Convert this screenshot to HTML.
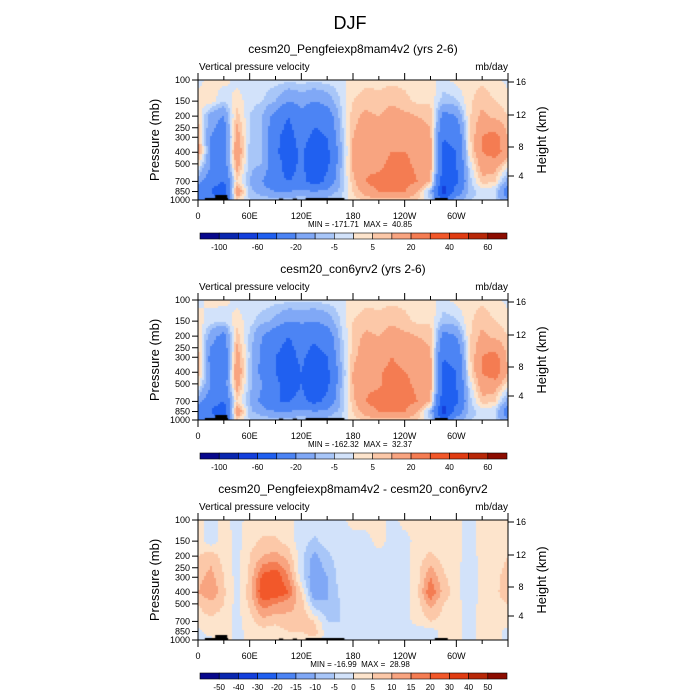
<!DOCTYPE html>
<html><head><meta charset="utf-8">
<style>
html,body{margin:0;padding:0;background:#fff;}
#wrap{position:relative;width:700px;height:700px;overflow:hidden;font-family:"Liberation Sans",Arial,sans-serif;}
canvas{position:absolute;left:0;top:0;}
svg{position:absolute;left:0;top:0;}
text{white-space:pre;}
</style></head>
<body>
<div id="wrap">
<canvas id="cv" width="700" height="700"></canvas>
<svg id="sv" width="700" height="700"></svg>
</div>
<script>
// ---- data ----
const lons = [0,15,30,45,60,75,90,105,120,135,150,165,180,195,210,225,240,255,270,285,300,315,330,345];
const pressures = [100,150,200,300,400,500,700,850,1000];
const field1 = [
 [-2, 2, 2,-2,-2,-2,-3,-3,-3,-3,-3,-2, 3, 4, 4, 4, 4, 3, 2,-2, 2, 3, 4, 2],
 [ 3, 3,-5, 3,-3,-5,-10,-20,-15,-20,-15,-5, 5, 7, 6, 8, 6, 4, 4,-8,-6, 4, 8, 5],
 [ 5,-15,-20, 8,-5,-10,-25,-40,-25,-35,-30,-8, 8,12,10,15,12,10, 8,-25,-20, 4,12, 8],
 [10,-20,-30,15,-5,-10,-35,-50,-30,-45,-40,-10,10,15,12,20,15,15,12,-40,-35, 3,20,25],
 [15,-20,-30,20,-8,-10,-35,-55,-35,-60,-45,-15,12,20,15,20,20,18,14,-45,-40, 2,20,25],
 [ 3,-20,-30,15,-8,-10,-30,-50,-35,-55,-45,-12,12,18,15,25,22,18,14,-45,-40,-3,15,15],
 [-15,-30,-40, 5,-10,-20,-35,-40,-35,-50,-35,-10, 8,20,25,30,25,20,10,-55,-45,-8, 8, 5],
 [-30,-40,-60,20,-8,-15,-20,-20,-15,-20,-15,-8, 5,15,20,20,20,10,-10,-70,-30,-8,-3,-5],
 [-20,-30,-40, 5,-5,-5,-8,-8,-5,-8,-8,-5, 3, 5, 8, 8, 8, 5,-5,-40,-15,-5,-3,-5]
];
const field2 = [
 [-2, 2, 2,-2,-2,-2,-3,-3,-3,-3,-3,-2, 3, 4, 4, 4, 4, 3, 2,-2, 2, 3, 4, 2],
 [ 3,-3,-5, 3,-3,-8,-12,-20,-18,-20,-15,-5, 5, 7, 6, 8, 6, 4, 4,-8,-6, 4, 8, 5],
 [ 5,-15,-25, 8,-6,-20,-30,-40,-30,-35,-30,-8, 6,12,10,15,12,10, 8,-25,-20, 4,12, 8],
 [ 8,-25,-35,15,-6,-25,-40,-50,-35,-50,-40,-10, 8,15,12,20,15,15,12,-40,-35, 3,20,25],
 [10,-25,-35,20,-8,-25,-40,-55,-40,-60,-45,-15,10,20,18,25,20,18,14,-45,-40, 2,20,28],
 [ 3,-20,-30,15,-8,-20,-35,-50,-40,-55,-45,-12,10,18,18,25,22,18,14,-45,-40,-3,15,15],
 [-15,-30,-40, 5,-10,-25,-40,-40,-35,-45,-35,-10, 8,20,25,30,25,20,10,-55,-45,-8, 8, 5],
 [-30,-40,-60,20,-8,-15,-20,-20,-15,-20,-15,-8, 5,15,20,20,20,10,-10,-70,-30,-8,-3,-5],
 [-20,-30,-40, 5,-5,-5,-8,-8,-5,-8,-8,-5, 3, 5, 8, 8, 8, 5,-5,-40,-15,-5,-3,-5]
];
const field3 = [
 [2,-2,2,-2,2,2,2,2,-2,-2,-2,-2,2,2,2,-2,2,2,2,2,2,-2,2,2],
 [2,-3,3,-2,3,6,6,3,-3,-6,-3,-2,-2,-2,2,-2,-2,2,3,2,2,-2,2,2],
 [5,8,3,-2,5,10,12,8,-3,-12,-6,-3,-2,-2,-2,-2,-2,3,6,3,2,-3,2,2],
 [8,12,5,-2,6,22,25,15,-3,-15,-10,-3,-2,-2,-3,-2,-2,3,15,6,2,-5,2,3],
 [10,15,6,-2,8,25,25,20,5,-15,-10,-4,-2,-2,-3,-2,-2,4,20,8,2,-5,2,3],
 [5,8,5,-2,6,18,15,12,8,-8,-10,-5,-2,-2,-3,-2,-2,3,12,5,2,-3,2,2],
 [3,4,3,-2,3,8,6,8,10,5,-5,-5,-3,-2,-3,-2,-2,2,5,3,2,-2,2,2],
 [-2,3,3,-2,2,3,3,5,5,8,-3,-4,-2,-2,-2,-2,-2,-3,-3,2,2,-2,2,2],
 [-2,-2,3,-2,2,2,2,3,3,3,-2,-3,-2,-2,-2,-2,-2,-3,-2,2,2,-2,2,2]
];
const levels12 = [-100,-80,-60,-40,-20,-10,-5,0,5,10,20,30,40,50,60];
const levels3 = [-50,-40,-30,-20,-15,-10,-5,0,5,10,15,20,30,40,50];
const titles = ["cesm20_Pengfeiexp8mam4v2 (yrs 2-6)","cesm20_con6yrv2 (yrs 2-6)","cesm20_Pengfeiexp8mam4v2 - cesm20_con6yrv2"];
const minmax = ["MIN = -171.71  MAX =  40.85","MIN = -162.32  MAX =  32.37","MIN = -16.99  MAX =  28.98"];
const pTicks = [100,150,200,250,300,400,500,700,850,1000];
const hTicks = [4,8,12,16];
const hTickY = [176,147,115,82];
const lonTicks = [0,60,120,180,240,300];
const lonLabels = ["0","60E","120E","180","120W","60W"];
const topoLon = [[8,35,2],[20,34,5],[94,99,1.5],[110,115,1.5],[125,170,2],[275,290,2]];

const colors = ["#08088c","#0a28b0","#1440dc","#2060f0","#4c84f4","#80a8f6","#a8c6f8","#d2e2fa","#fde4cc","#fcc8a8","#f8a480","#f47c52","#f2582a","#e03c12","#b82808","#8c0c00"];

// ---- geometry ----
const X0=198, X1=508, PH=120;
const tops=[80,300,520];
const xOf = lon => X0 + (X1-X0)*lon/360;
const yOf = (p,top) => top + PH*Math.log10(p/100);

function colorFor(v, lv){ let i=0; while(i<lv.length && v>=lv[i]) i++; return colors[i]; }
function sample(field, lon, p){
  const n=lons.length;
  let c=lon/15; let i0=Math.floor(c)%n; let i1=(i0+1)%n; let fx=c-Math.floor(c);
  const lp=Math.log10(p); let j=0;
  while(j<pressures.length-2 && lp>Math.log10(pressures[j+1])) j++;
  const a=Math.log10(pressures[j]), b=Math.log10(pressures[j+1]);
  let fy=Math.min(1,Math.max(0,(lp-a)/(b-a)));
  const v00=field[j][i0],v01=field[j][i1],v10=field[j+1][i0],v11=field[j+1][i1];
  return (v00*(1-fx)+v01*fx)*(1-fy)+(v10*(1-fx)+v11*fx)*fy;
}
const ctx=document.getElementById('cv').getContext('2d');
const fields=[field1,field2,field3];
const lvs=[levels12,levels12,levels3];
for(let k=0;k<3;k++){
  const top=tops[k];
  for(let y=top;y<top+PH;y+=2){
    const p=100*Math.pow(10,(y+1-top)/PH);
    for(let x=X0;x<X1;x+=2){
      const lon=(x+1-X0)/(X1-X0)*360;
      ctx.fillStyle=colorFor(sample(fields[k],lon,p),lvs[k]);
      ctx.fillRect(x,y,2,2);
    }
  }
  ctx.fillStyle="#000";
  topoLon.forEach(t=>{ const h=t[2]; ctx.fillRect(xOf(t[0]),top+PH-h,xOf(t[1])-xOf(t[0]),h); });
}

// ---- svg overlay ----
const NS="http://www.w3.org/2000/svg";
const sv=document.getElementById('sv');
function mk(tag,attrs,parent){const e=document.createElementNS(NS,tag);for(const a in attrs)e.setAttribute(a,attrs[a]);(parent||sv).appendChild(e);return e;}
function txt(s,x,y,size,anchor,parent,extra){const e=mk('text',Object.assign({x:x,y:y,'font-size':size,'text-anchor':anchor||'middle',fill:'#000'},extra||{}),parent);e.textContent=s;return e;}

const t0=txt("DJF",350,29,18);



for(let k=0;k<3;k++){
  const top=tops[k];
  const g=mk('g',{});
  
  
  const st=txt(titles[k],353,top-27,12,'middle',g);
  
  
  const lt=txt("Vertical pressure velocity",199,top-10,10,'start',g);
  
  
  const ut=txt("mb/day",508,top-10,10,'end',g);
  
  
  const fr=mk('rect',{x:X0,y:top,width:X1-X0,height:PH,fill:'none',stroke:'#000','stroke-width':1},g);
  
  
  pTicks.forEach(p=>{
    const y=yOf(p,top);
    mk('line',{x1:X0-6,x2:X0,y1:y,y2:y,stroke:'#000','stroke-width':1},g);
    const l=txt(String(p),X0-8,y+3,9,'end',g);
    
    
  });
  hTicks.forEach((h,i)=>{
    const y=top+(hTickY[i]-80);
    mk('line',{x1:X1,x2:X1+6,y1:y,y2:y,stroke:'#000','stroke-width':1},g);
    const l=txt(String(h),X1+13,y+3,9,'middle',g);
    
    
  });
  for(let lon=0;lon<=360;lon+=30){
    const x=xOf(lon), major=(lon%60===0);
    const len=major?7:4;
    mk('line',{x1:x,x2:x,y1:top+PH,y2:top+PH+len,stroke:'#000','stroke-width':1},g);
    mk('line',{x1:x,x2:x,y1:top,y2:top-len,stroke:'#000','stroke-width':1},g);
  }
  lonTicks.forEach((lon,i)=>{
    const l=txt(lonLabels[i],xOf(lon),top+PH+19,9,'middle',g);
    
    
  });
  const yl=txt("Pressure (mb)",0,0,13,'middle',g,{transform:`translate(159,${top+60}) rotate(-90)`});
  
  
  const yr=txt("Height (km)",0,0,13,'middle',g,{transform:`translate(546,${top+60}) rotate(-90)`});
  
  
  const mm=txt(minmax[k],360,top+PH+27,8,'middle',g);
  
  
  const cb=mk('g',{},g);
  
  
  const cy=top+PH+33, bw=(507-200)/16;
  colors.forEach((c,i)=>{
    const r=mk('rect',{x:200+i*bw,y:cy,width:bw,height:6,fill:c,stroke:'#000','stroke-width':0.6},cb);
    
    
  });
  const lv=lvs[k];
  lv.forEach((v,i)=>{
    if(k<2 && i%2===1) return;
    const l=txt(String(v),200+(i+1)*bw,cy+17,8,'middle',cb);
    
    
  });
}
</script>
</body></html>
